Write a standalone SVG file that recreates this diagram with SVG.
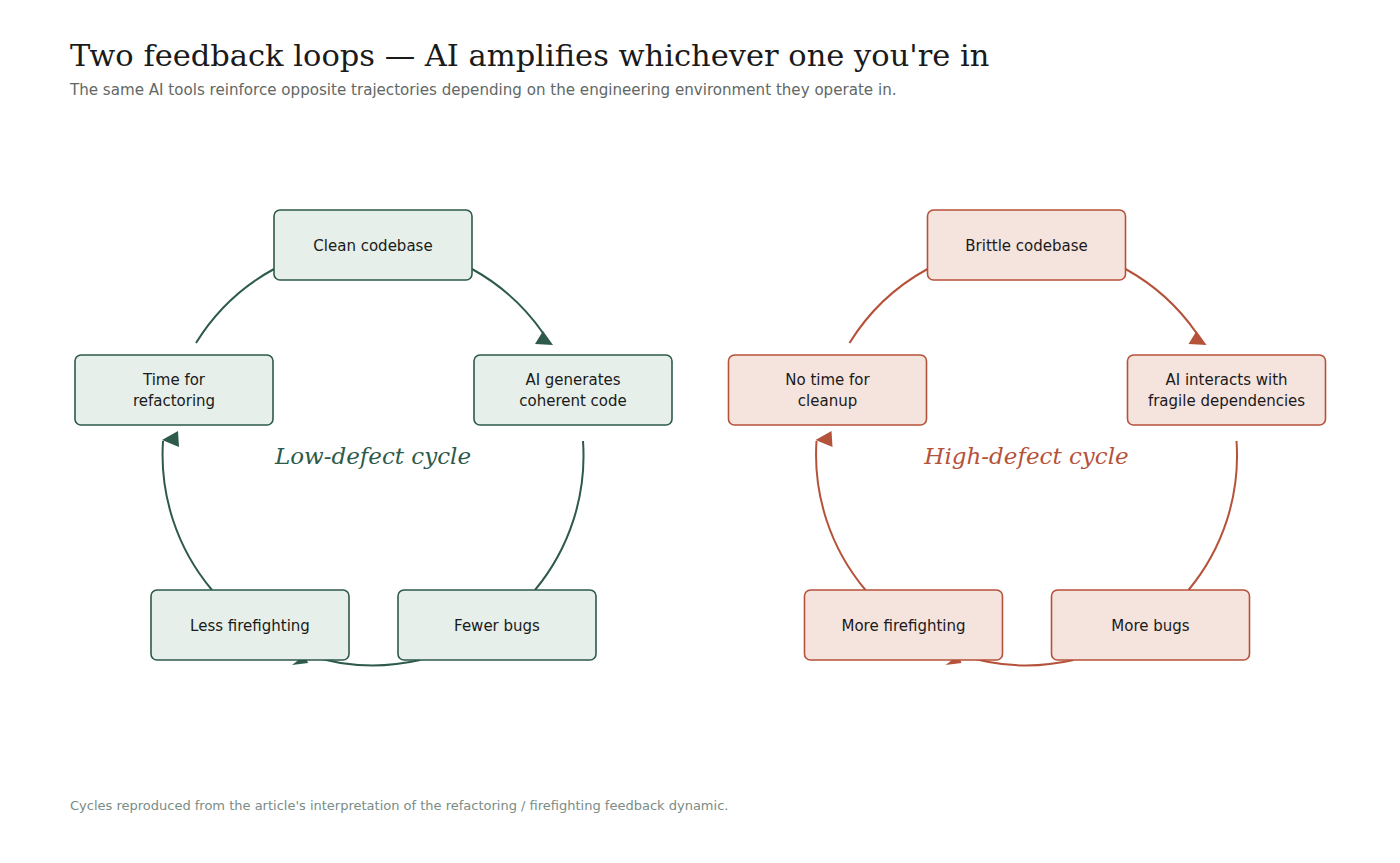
<svg xmlns="http://www.w3.org/2000/svg" width="1400" height="863" viewBox="0 0 1400 863">
<style>
.title{font-family:"DejaVu Serif",serif;font-size:30.5px;fill:#1a1a1a}
.sub{font-family:"DejaVu Sans",sans-serif;font-size:15.1px;fill:#5f6866}
.foot{font-family:"DejaVu Sans",sans-serif;font-size:13px;fill:#7a8c86}
.nt{font-family:"DejaVu Sans",sans-serif;font-size:15px;fill:#1a1a1a;text-anchor:middle}
.lbl{font-family:"DejaVu Serif",serif;font-style:italic;font-size:23px;text-anchor:middle}
.g rect{fill:#e6efe9;stroke:#2d5a4a;stroke-width:1.6}
.r rect{fill:#f5e3dd;stroke:#b5523a;stroke-width:1.6}
.cg path{fill:none;stroke:#2d5a4a;stroke-width:2}
.cg polygon{fill:#2d5a4a}
.cr path{fill:none;stroke:#b5523a;stroke-width:2}
.cr polygon{fill:#b5523a}
</style>
<rect width="1400" height="863" fill="#ffffff"/>
<text class="title" x="70" y="66">Two feedback loops — AI amplifies whichever one you're in</text>
<text class="sub" x="70" y="95">The same AI tools reinforce opposite trajectories depending on the engineering environment they operate in.</text>

<g id="connectors-low" class="cg">
<path d="M472 269 A210 210 0 0 1 543 333"/>
<polygon points="543,331 535,344 553,345"/>
<path d="M583 441 A210 210 0 0 1 535 590"/>
<path d="M420 660 A210 210 0 0 1 305 654"/>
<polygon points="292,665 305,655 308,663"/>
<path d="M212 590 A210 210 0 0 1 163 441"/>
<polygon points="162,440 178,431 179,447"/>
<path d="M196 343 A210 210 0 0 1 274 269"/>
</g>
<g id="connectors-high" class="cr" transform="translate(653.5 0)">
<path d="M472 269 A210 210 0 0 1 543 333"/>
<polygon points="543,331 535,344 553,345"/>
<path d="M583 441 A210 210 0 0 1 535 590"/>
<path d="M420 660 A210 210 0 0 1 305 654"/>
<polygon points="292,665 305,655 308,663"/>
<path d="M212 590 A210 210 0 0 1 163 441"/>
<polygon points="162,440 178,431 179,447"/>
<path d="M196 343 A210 210 0 0 1 274 269"/>
</g>

<g id="clean-codebase" class="g"><rect x="274" y="210" width="198" height="70" rx="6"/><text class="nt" x="373" y="251">Clean codebase</text></g>
<g id="ai-generates" class="g"><rect x="474" y="355" width="198" height="70" rx="6"/><text class="nt" x="573" y="385">AI generates</text><text class="nt" x="573" y="406">coherent code</text></g>
<g id="fewer-bugs" class="g"><rect x="398" y="590" width="198" height="70" rx="6"/><text class="nt" x="497" y="631">Fewer bugs</text></g>
<g id="less-firefighting" class="g"><rect x="151" y="590" width="198" height="70" rx="6"/><text class="nt" x="250" y="631">Less firefighting</text></g>
<g id="time-for-refactoring" class="g"><rect x="75" y="355" width="198" height="70" rx="6"/><text class="nt" x="174" y="385">Time for</text><text class="nt" x="174" y="406">refactoring</text></g>
<text id="low-label" class="lbl" x="373" y="464" fill="#2d5a4a">Low-defect cycle</text>

<g id="brittle-codebase" class="r"><rect x="927.5" y="210" width="198" height="70" rx="6"/><text class="nt" x="1026.5" y="251">Brittle codebase</text></g>
<g id="ai-interacts" class="r"><rect x="1127.5" y="355" width="198" height="70" rx="6"/><text class="nt" x="1226.5" y="385">AI interacts with</text><text class="nt" x="1226.5" y="406">fragile dependencies</text></g>
<g id="more-bugs" class="r"><rect x="1051.5" y="590" width="198" height="70" rx="6"/><text class="nt" x="1150.5" y="631">More bugs</text></g>
<g id="more-firefighting" class="r"><rect x="804.5" y="590" width="198" height="70" rx="6"/><text class="nt" x="903.5" y="631">More firefighting</text></g>
<g id="no-time-for-cleanup" class="r"><rect x="728.5" y="355" width="198" height="70" rx="6"/><text class="nt" x="827.5" y="385">No time for</text><text class="nt" x="827.5" y="406">cleanup</text></g>
<text id="high-label" class="lbl" x="1026.5" y="464" fill="#b5523a">High-defect cycle</text>

<text class="foot" x="70" y="810">Cycles reproduced from the article's interpretation of the refactoring / firefighting feedback dynamic.</text>
</svg>
